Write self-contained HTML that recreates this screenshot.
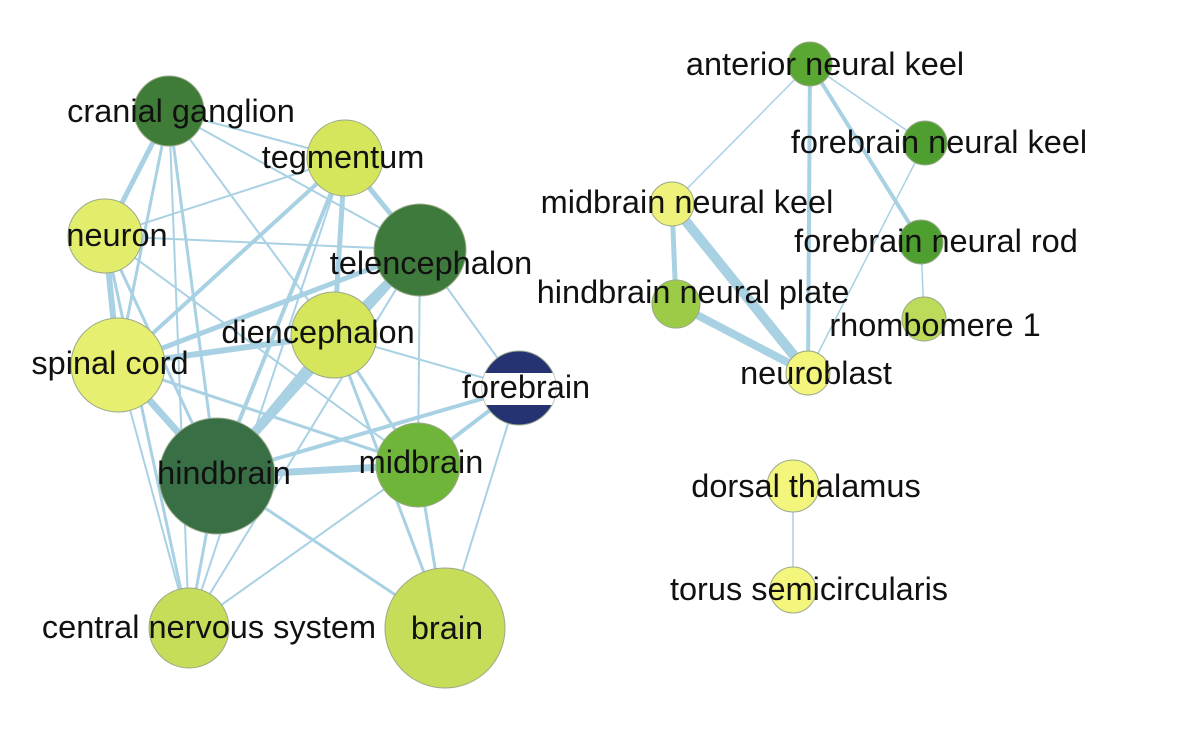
<!DOCTYPE html>
<html><head><meta charset="utf-8"><style>
html,body{margin:0;padding:0;background:#fff;}
svg{display:block}
text{font-family:"Liberation Sans",Arial,sans-serif;font-size:32.5px;fill:#111;text-anchor:middle}
</style></head><body>
<svg width="1200" height="746" viewBox="0 0 1200 746" xmlns="http://www.w3.org/2000/svg">
<defs><clipPath id="fbc"><circle cx="519" cy="388" r="37"/></clipPath></defs>
<g stroke="#a9d1e4" stroke-linecap="round" fill="none">
<line x1="169" y1="111" x2="345" y2="158" stroke-width="2"/>
<line x1="169" y1="111" x2="105" y2="236" stroke-width="5"/>
<line x1="169" y1="111" x2="118" y2="365" stroke-width="3"/>
<line x1="169" y1="111" x2="217" y2="476" stroke-width="3"/>
<line x1="169" y1="111" x2="189" y2="628" stroke-width="2"/>
<line x1="169" y1="111" x2="334" y2="335" stroke-width="2"/>
<line x1="169" y1="111" x2="420" y2="250" stroke-width="2"/>
<line x1="345" y1="158" x2="105" y2="236" stroke-width="2"/>
<line x1="345" y1="158" x2="118" y2="365" stroke-width="4"/>
<line x1="345" y1="158" x2="217" y2="476" stroke-width="4"/>
<line x1="345" y1="158" x2="334" y2="335" stroke-width="5"/>
<line x1="345" y1="158" x2="420" y2="250" stroke-width="5"/>
<line x1="345" y1="158" x2="189" y2="628" stroke-width="2"/>
<line x1="105" y1="236" x2="420" y2="250" stroke-width="2"/>
<line x1="105" y1="236" x2="118" y2="365" stroke-width="6"/>
<line x1="105" y1="236" x2="217" y2="476" stroke-width="3"/>
<line x1="105" y1="236" x2="189" y2="628" stroke-width="3"/>
<line x1="105" y1="236" x2="418" y2="465" stroke-width="2"/>
<line x1="420" y1="250" x2="334" y2="335" stroke-width="7"/>
<line x1="420" y1="250" x2="118" y2="365" stroke-width="5"/>
<line x1="420" y1="250" x2="217" y2="476" stroke-width="7"/>
<line x1="420" y1="250" x2="418" y2="465" stroke-width="2"/>
<line x1="420" y1="250" x2="519" y2="388" stroke-width="2"/>
<line x1="420" y1="250" x2="189" y2="628" stroke-width="2"/>
<line x1="334" y1="335" x2="118" y2="365" stroke-width="6"/>
<line x1="334" y1="335" x2="217" y2="476" stroke-width="7"/>
<line x1="334" y1="335" x2="519" y2="388" stroke-width="2"/>
<line x1="334" y1="335" x2="418" y2="465" stroke-width="3"/>
<line x1="334" y1="335" x2="445" y2="628" stroke-width="3"/>
<line x1="118" y1="365" x2="217" y2="476" stroke-width="7"/>
<line x1="118" y1="365" x2="189" y2="628" stroke-width="2"/>
<line x1="118" y1="365" x2="418" y2="465" stroke-width="3"/>
<line x1="519" y1="388" x2="217" y2="476" stroke-width="4"/>
<line x1="519" y1="388" x2="418" y2="465" stroke-width="4"/>
<line x1="519" y1="388" x2="445" y2="628" stroke-width="2"/>
<line x1="217" y1="476" x2="418" y2="465" stroke-width="7"/>
<line x1="217" y1="476" x2="189" y2="628" stroke-width="3"/>
<line x1="217" y1="476" x2="445" y2="628" stroke-width="3"/>
<line x1="418" y1="465" x2="445" y2="628" stroke-width="3"/>
<line x1="418" y1="465" x2="189" y2="628" stroke-width="2"/>
<line x1="810" y1="64" x2="672" y2="204" stroke-width="1.5"/>
<line x1="810" y1="64" x2="808" y2="373" stroke-width="4"/>
<line x1="810" y1="64" x2="921" y2="242" stroke-width="4"/>
<line x1="810" y1="64" x2="925" y2="143" stroke-width="1.5"/>
<line x1="672" y1="204" x2="676" y2="304" stroke-width="5"/>
<line x1="672" y1="204" x2="808" y2="373" stroke-width="10"/>
<line x1="676" y1="304" x2="808" y2="373" stroke-width="8"/>
<line x1="925" y1="143" x2="808" y2="373" stroke-width="1.5"/>
<line x1="921" y1="242" x2="924" y2="319" stroke-width="1.5"/>
<line x1="793" y1="486" x2="793" y2="590" stroke-width="1.5"/>
</g>
<g stroke="#9aa98a" stroke-width="1">
<circle cx="169" cy="111" r="35" fill="#3f7c38"/>
<circle cx="345" cy="158" r="38" fill="#d5e65c"/>
<circle cx="105" cy="236" r="37" fill="#e2ed6c"/>
<circle cx="420" cy="250" r="46" fill="#3e7a3b"/>
<circle cx="334" cy="335" r="43" fill="#d5e65c"/>
<circle cx="118" cy="365" r="47" fill="#e6ef6f"/>
<circle cx="519" cy="388" r="37" fill="#263373"/>
<circle cx="217" cy="476" r="58" fill="#386f45"/>
<circle cx="418" cy="465" r="42" fill="#6fb53a"/>
<circle cx="189" cy="628" r="40" fill="#c5dd58"/>
<circle cx="445" cy="628" r="60" fill="#c5dd58"/>
<circle cx="810" cy="64" r="22" fill="#5aa833"/>
<circle cx="925" cy="143" r="22" fill="#4f9f30"/>
<circle cx="672" cy="204" r="22" fill="#eef27a"/>
<circle cx="921" cy="242" r="22" fill="#4f9f30"/>
<circle cx="676" cy="304" r="24" fill="#9ccb48"/>
<circle cx="924" cy="319" r="22" fill="#bcdb5a"/>
<circle cx="808" cy="373" r="22" fill="#f3f57c"/>
<circle cx="793" cy="486" r="26" fill="#f3f57c"/>
<circle cx="793" cy="590" r="23" fill="#f3f57c"/>
</g>
<rect x="470" y="373" width="100" height="32" fill="#fff" clip-path="url(#fbc)"/>
<text x="181" y="122">cranial ganglion</text>
<text x="343" y="168">tegmentum</text>
<text x="117" y="246">neuron</text>
<text x="431" y="274">telencephalon</text>
<text x="318" y="343">diencephalon</text>
<text x="110" y="374">spinal cord</text>
<text x="526" y="398">forebrain</text>
<text x="224" y="484">hindbrain</text>
<text x="421" y="473">midbrain</text>
<text x="209" y="638">central nervous system</text>
<text x="447" y="639">brain</text>
<text x="825" y="75">anterior neural keel</text>
<text x="939" y="153">forebrain neural keel</text>
<text x="687" y="213">midbrain neural keel</text>
<text x="936" y="252">forebrain neural rod</text>
<text x="693" y="303">hindbrain neural plate</text>
<text x="935" y="336">rhombomere 1</text>
<text x="816" y="384">neuroblast</text>
<text x="806" y="497">dorsal thalamus</text>
<text x="809" y="600">torus semicircularis</text>
</svg>
</body></html>
